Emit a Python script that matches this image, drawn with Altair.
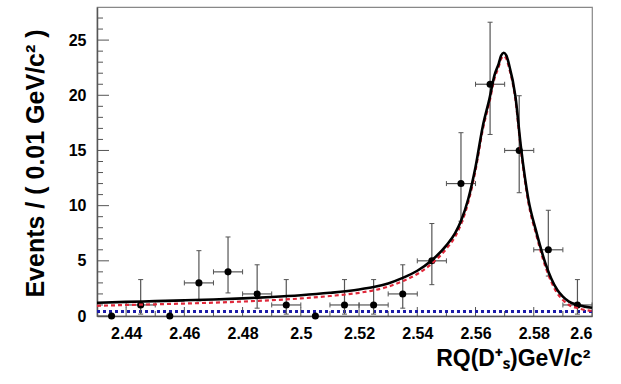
import altair as alt
import pandas as pd

# ---- data ----
bin_x = [2.435, 2.445, 2.455, 2.465, 2.475, 2.485, 2.495, 2.505, 2.515,
         2.525, 2.535, 2.545, 2.555, 2.565, 2.575, 2.585, 2.595]
counts = [0, 1, 0, 3, 4, 2, 1, 0, 1, 1, 2, 5, 12, 21, 15, 6, 1]
err_lo = [0, 0.83, 0, 1.63, 1.91, 1.29, 0.83, 0, 0.83, 0.83, 1.29, 2.16,
          3.41, 4.55, 3.83, 2.38, 0.83]
err_hi = [0, 2.30, 0, 2.92, 3.16, 2.64, 2.30, 0, 2.30, 2.30, 2.64, 3.38,
          4.61, 5.62, 4.96, 3.58, 2.30]
half_bin = 0.005

curve_x = [2.430, 2.440, 2.450, 2.460, 2.470, 2.480, 2.490, 2.500, 2.510, 2.520,
           2.525, 2.530, 2.535, 2.540, 2.545, 2.550, 2.553, 2.555, 2.5575, 2.560,
           2.5625, 2.5648, 2.5665, 2.568, 2.5688, 2.5697, 2.5706, 2.5714, 2.5737, 2.5756,
           2.5782, 2.5807, 2.584, 2.586, 2.5881, 2.590, 2.5921, 2.595, 2.5975, 2.600]
total_fit = [1.2, 1.28, 1.35, 1.42, 1.5, 1.6, 1.72, 1.88, 2.1, 2.4,
             2.62, 2.95, 3.45, 4.1, 5.05, 6.4, 7.5, 8.6, 10.6, 13.5,
             17.2, 19.7, 21.8, 22.9, 23.6, 23.85, 23.6, 22.9, 19.9, 15.3,
             10.5, 7.8, 4.77, 3.4, 2.35, 1.75, 1.3, 1.02, 0.85, 0.75]
signal_fit = [0.92, 1.0, 1.06, 1.13, 1.21, 1.31, 1.43, 1.59, 1.81, 2.1,
              2.33, 2.66, 3.16, 3.8, 4.76, 6.1, 7.2, 8.3, 10.3, 13.2,
              16.9, 19.4, 21.5, 22.6, 23.3, 23.55, 23.3, 22.6, 19.6, 15.0,
              10.2, 7.5, 4.47, 3.1, 2.05, 1.45, 1.0, 0.72, 0.55, 0.45]
bkg_x = [2.43, 2.60]
bkg_y = [0.4, 0.4]

x_major = [2.44, 2.46, 2.48, 2.50, 2.52, 2.54, 2.56, 2.58, 2.60]
x_minor = [2.45, 2.47, 2.49, 2.51, 2.53, 2.55, 2.57, 2.59]
y_major = [0, 5, 10, 15, 20, 25]
y_minor = [1, 2, 3, 4, 6, 7, 8, 9, 11, 12, 13, 14, 16, 17, 18, 19, 21, 22, 23, 24, 26, 27]

# ---- tables ----
pts = pd.DataFrame({"x": bin_x, "n": counts, "elo": err_lo, "ehi": err_hi})
pts["lo"] = pts["n"] - pts["elo"]
pts["hi"] = pts["n"] + pts["ehi"]
pts["xlo"] = pts["x"] - half_bin
pts["xhi"] = pts["x"] + half_bin
errs = pts[pts["n"] > 0]

curves = pd.DataFrame({"x": curve_x, "tot": total_fit, "sig": signal_fit})
bkg = pd.DataFrame({"x": bkg_x, "y": bkg_y})

W, H = 495, 309
FONT = "Liberation Sans"
xs = alt.Scale(domain=[2.43, 2.6], nice=False, zero=False)
ys = alt.Scale(domain=[0, 28], nice=False, zero=False)

xaxis = alt.Axis(values=x_major, format=".2~f", ticks=False, grid=False,
                 labelFont=FONT, labelFontSize=16, labelFontWeight="bold",
                 labelColor="black", labelPadding=9,
                 domainColor="#555", domainWidth=1.5,
                 title="RQ(D⁺ₛ)GeV/c²", titleFont=FONT, titleFontSize=23,
                 titleFontWeight="bold", titleColor="black",
                 titleAlign="right", titleAnchor="end", titleX=493, titleY=49,
                 titleBaseline="alphabetic")
yaxis = alt.Axis(values=y_major, ticks=False, grid=False,
                 labelFont=FONT, labelFontSize=16, labelFontWeight="bold",
                 labelColor="black", labelPadding=11,
                 domainColor="#555", domainWidth=1.5,
                 title="Events / ( 0.01 GeV/c² )", titleFont=FONT,
                 titleFontSize=25, titleFontWeight="bold", titleColor="black",
                 titleAngle=270, titleAlign="center", titleBaseline="alphabetic",
                 titleX=-54, titleY=156)

X = lambda f: alt.X(f, scale=xs, axis=xaxis)
Y = lambda f: alt.Y(f, scale=ys, axis=yaxis)

ytick_major = alt.Chart(pd.DataFrame({"v": y_major})).mark_rule(color="#555", strokeWidth=1).encode(
    y=Y("v:Q"), x=alt.value(0), x2=alt.value(12))
ytick_minor = alt.Chart(pd.DataFrame({"v": y_minor})).mark_rule(color="#555", strokeWidth=1).encode(
    y=Y("v:Q"), x=alt.value(0), x2=alt.value(6))
xtick_major = alt.Chart(pd.DataFrame({"v": x_major})).mark_rule(color="#555", strokeWidth=1).encode(
    x=X("v:Q"), y=alt.value(H), y2=alt.value(H - 9))
xtick_minor = alt.Chart(pd.DataFrame({"v": x_minor})).mark_rule(color="#555", strokeWidth=1).encode(
    x=X("v:Q"), y=alt.value(H), y2=alt.value(H - 5))

bkg_line = alt.Chart(bkg).mark_line(color="#1c1ca8", strokeWidth=3, strokeDash=[3, 3]).encode(
    x=X("x:Q"), y=Y("y:Q"))

ebar_v = alt.Chart(errs).mark_rule(color="#555", strokeWidth=1.2).encode(
    x=X("x:Q"), y=Y("lo:Q"), y2="hi:Q")
ebar_h = alt.Chart(errs).mark_rule(color="#555", strokeWidth=1.2).encode(
    x=X("xlo:Q"), x2="xhi:Q", y=Y("n:Q"))
cap_lo = alt.Chart(errs).mark_rule(color="#555", strokeWidth=1, xOffset=-2.5, x2Offset=2.5).encode(
    x=X("x:Q"), x2="x:Q", y=Y("lo:Q"))
cap_hi = alt.Chart(errs).mark_rule(color="#555", strokeWidth=1, xOffset=-2.5, x2Offset=2.5).encode(
    x=X("x:Q"), x2="x:Q", y=Y("hi:Q"))
cap_l = alt.Chart(errs).mark_rule(color="#555", strokeWidth=1, yOffset=-2.5, y2Offset=2.5).encode(
    x=X("xlo:Q"), y=Y("n:Q"), y2="n:Q")
cap_r = alt.Chart(errs).mark_rule(color="#555", strokeWidth=1, yOffset=-2.5, y2Offset=2.5).encode(
    x=X("xhi:Q"), y=Y("n:Q"), y2="n:Q")

dots = alt.Chart(pts).mark_circle(color="black", size=50, opacity=1).encode(
    x=X("x:Q"), y=Y("n:Q"))

sig_line = alt.Chart(curves).mark_line(color="#e0283a", strokeWidth=2.2, strokeDash=[4, 3],
                                       interpolate="monotone").encode(x=X("x:Q"), y=Y("sig:Q"))
tot_line = alt.Chart(curves).mark_line(color="black", strokeWidth=2.6,
                                       interpolate="monotone").encode(x=X("x:Q"), y=Y("tot:Q"))

chart = alt.layer(
    ytick_major, ytick_minor, xtick_major, xtick_minor,
    bkg_line, ebar_v, ebar_h, cap_lo, cap_hi, cap_l, cap_r, dots,
    sig_line, tot_line,
).properties(
    width=W, height=H,
    autosize=alt.AutoSizeParams(type="none"),
    padding={"left": 97, "top": 7, "right": 29, "bottom": 68},
    background="white",
).configure_view(stroke="#888", strokeWidth=1.2)

chart.save("out.html", embed_options={"renderer": "svg", "actions": False})
